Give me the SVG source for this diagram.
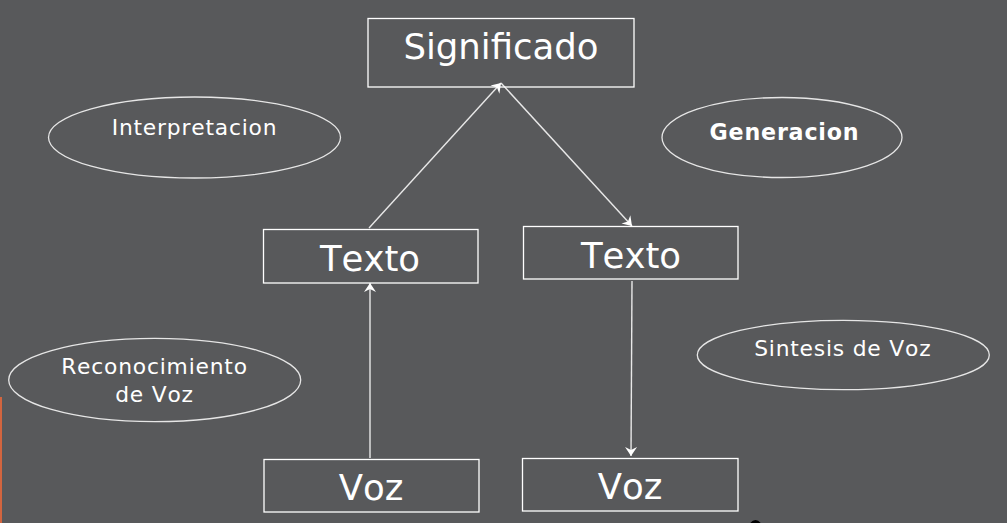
<svg xmlns="http://www.w3.org/2000/svg" width="1007" height="523" viewBox="0 0 1007 523">
<style>
text{font-kerning:none}
.box{fill:none;stroke:#ffffff;stroke-width:1.3}
.ell{fill:none;stroke:#e6e6e6;stroke-width:1.3}
.big{font-family:"DejaVu Sans",sans-serif;font-size:35.5px;fill:#ffffff;text-anchor:middle}
.small{font-family:"DejaVu Sans",sans-serif;font-size:21.8px;fill:#ffffff;text-anchor:middle;letter-spacing:0.8px}
.bold{font-family:"DejaVu Sans",sans-serif;font-size:22.2px;font-weight:bold;fill:#ffffff;text-anchor:middle;letter-spacing:0.8px}
.conn{stroke:#e8e8e8;stroke-width:1.4;fill:none;marker-end:url(#arr)}
</style>
<defs>
<marker id="arr" markerUnits="userSpaceOnUse" markerWidth="16" markerHeight="16" viewBox="-10 -8 12 16" refX="0" refY="0" orient="auto">
<path d="M0,0 L-9,-6 L-6,0 L-9,6 Z" fill="#ffffff"/>
</marker>
</defs>
<rect width="1007" height="523" fill="#58595b"/>
<rect x="0" y="397" width="2" height="126" fill="#d2653f"/>
<ellipse cx="755.5" cy="529" rx="7" ry="9" fill="#000000"/>
<g id="connectors">
<line class="conn" x1="369" y1="228" x2="501" y2="83"/>
<line class="conn" x1="501" y1="83" x2="632" y2="226"/>
<line class="conn" x1="370" y1="458" x2="370" y2="283"/>
<line class="conn" x1="632" y1="281" x2="631" y2="456"/>
</g>
<g id="significado">
<rect class="box" x="368" y="18.5" width="266" height="68.5"/>
<text class="big" x="501" y="59">Significado</text>
</g>
<g id="texto-izq">
<rect class="box" x="263.5" y="229.5" width="214.5" height="53.5"/>
<text class="big" x="370" y="271">Texto</text>
</g>
<g id="texto-der">
<rect class="box" x="523.5" y="226.5" width="214.5" height="52.5"/>
<text class="big" x="631" y="268">Texto</text>
</g>
<g id="voz-izq">
<rect class="box" x="264" y="459.5" width="215" height="52.5"/>
<text class="big" x="371" y="500">Voz</text>
</g>
<g id="voz-der">
<rect class="box" x="522.5" y="458.5" width="215.5" height="52.5"/>
<text class="big" x="630" y="499">Voz</text>
</g>
<g id="interpretacion">
<ellipse class="ell" cx="194.5" cy="137.5" rx="146" ry="40.5"/>
<text class="small" x="194.5" y="135">Interpretacion</text>
</g>
<g id="generacion">
<ellipse class="ell" cx="782" cy="137.5" rx="120" ry="40"/>
<text class="bold" x="784.5" y="140">Generacion</text>
</g>
<g id="reconocimiento">
<ellipse class="ell" cx="154.7" cy="380" rx="146" ry="41.7"/>
<text class="small" x="154.5" y="374">Reconocimiento</text>
<text class="small" x="154.5" y="402">de Voz</text>
</g>
<g id="sintesis">
<ellipse class="ell" cx="843.3" cy="355" rx="146" ry="34.7"/>
<text class="small" x="842.8" y="356">Sintesis de Voz</text>
</g>
</svg>
